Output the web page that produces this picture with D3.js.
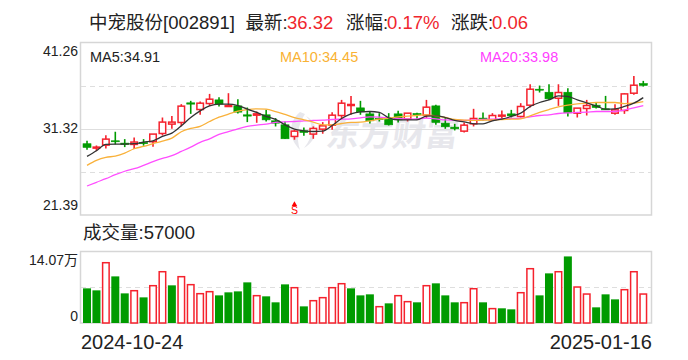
<!DOCTYPE html>
<html>
<head>
<meta charset="utf-8">
<script src="https://cdn.jsdelivr.net/npm/d3@7"></script>
<style>
    html, body { margin: 0; padding: 0; background: #fff; }
    text { font-family: "Liberation Sans", "Noto Sans CJK SC", sans-serif; }
</style>
</head>
<body>
<div id="myPlot"></div>
<script>
// Price data, one entry per trading day
const opens = [29.60,29.10,29.44,29.94,29.67,29.52,29.75,29.83,30.78,31.86,32.05,34.31,33.54,34.23,34.65,33.93,33.96,32.93,32.89,32.93,32.24,31.78,30.44,31.09,30.71,31.28,31.74,32.85,34.00,33.73,33.04,32.51,32.43,33.04,32.43,33.08,32.89,33.96,31.97,31.51,31.05,31.89,32.55,32.35,32.81,33.04,32.74,34.04,35.88,35.53,34.84,35.53,33.12,33.66,34.04,33.62,33.12,33.43,35.42,36.53];
const closes = [29.17,29.21,30.13,29.83,29.52,29.79,29.60,30.71,32.09,32.09,33.93,34.16,34.27,34.73,34.16,34.00,33.24,32.78,33.04,32.35,31.97,30.17,31.05,30.90,31.36,31.66,32.89,34.27,34.12,33.27,32.24,32.39,31.78,32.35,33.12,32.93,33.81,32.05,31.55,31.32,31.74,32.51,32.35,32.85,32.89,32.81,33.89,35.88,35.80,34.77,35.50,33.16,33.70,34.00,33.77,33.50,33.50,35.34,36.34,36.32];
const highs = [29.94,29.40,30.59,30.98,30.13,30.32,30.13,30.71,32.62,32.78,34.16,34.54,34.46,35.34,34.96,35.42,34.73,33.77,33.31,33.50,32.55,32.16,31.21,31.47,31.59,32.09,33.24,34.65,35.11,34.54,33.31,33.12,33.12,33.39,33.12,33.16,34.65,34.08,32.55,31.89,32.05,33.62,33.20,33.12,33.43,33.50,34.27,36.45,36.30,36.45,36.45,35.99,33.70,34.65,34.42,35.11,34.16,35.42,37.41,36.84];
const lows = [28.91,28.75,29.06,29.52,29.21,28.98,29.37,29.25,30.55,31.32,31.59,33.04,32.93,33.96,33.89,33.89,33.08,32.09,32.01,32.16,31.59,30.13,30.06,30.52,30.17,30.75,31.21,32.43,32.93,32.93,31.93,32.16,31.70,32.05,32.16,32.35,32.55,31.78,31.32,31.13,30.90,31.59,32.28,32.24,32.35,32.62,32.62,33.77,35.50,34.65,33.96,32.74,32.62,32.85,33.66,33.50,32.93,33.04,35.23,36.19];
const ma5 = [28.14,28.79,29.52,29.56,29.56,29.60,29.79,29.94,30.44,30.82,31.66,32.62,33.39,33.96,34.16,34.16,34.00,33.58,33.20,32.74,32.40,31.78,31.28,31.09,31.01,31.05,31.70,32.51,33.04,33.27,33.31,33.20,32.58,32.35,32.35,32.35,32.78,32.81,32.62,32.28,32.12,31.89,31.89,32.24,32.43,32.74,33.12,33.89,34.35,34.65,35.11,35.04,34.65,34.31,33.96,33.58,33.62,33.89,34.27,34.91];
const ma10 = [27.11,27.68,28.02,28.18,28.52,29.02,29.29,29.60,29.90,30.25,30.98,31.36,31.59,32.16,32.66,33.01,33.35,33.54,33.62,33.58,33.31,32.97,32.62,32.35,32.09,31.78,31.78,31.93,32.05,32.09,32.24,32.43,32.55,32.70,32.78,32.85,32.93,32.81,32.62,32.39,32.32,32.28,32.32,32.35,32.39,32.43,32.47,32.81,33.20,33.54,33.85,34.04,34.19,34.27,34.35,34.35,34.35,34.23,34.27,34.45];
const ma20 = [24.73,25.16,25.57,26.03,26.43,26.72,27.11,27.53,27.91,28.22,28.71,29.21,29.75,30.17,30.67,30.98,31.32,31.59,31.74,31.86,32.05,32.12,32.16,32.24,32.28,32.32,32.39,32.43,32.47,32.58,32.70,32.66,32.58,32.51,32.43,32.47,32.55,32.47,32.35,32.32,32.28,32.35,32.39,32.43,32.47,32.51,32.55,32.70,32.85,32.93,33.08,33.16,33.20,33.24,33.31,33.31,33.31,33.47,33.73,33.98];
// Volume in 万, same order. The bar colour does not always follow the candle colour
const volumes = [6.77,6.38,11.78,9.11,5.79,6.31,5.01,7.29,10.02,7.36,9.05,7.49,5.73,6.12,5.40,5.99,6.18,7.94,5.34,5.21,4.04,7.55,6.90,3.25,4.36,4.95,6.90,7.68,6.77,5.40,5.60,3.19,3.84,5.34,4.17,4.04,7.29,7.75,5.40,4.04,3.97,6.70,4.04,2.81,2.87,2.67,5.92,10.61,5.40,9.70,10.02,13.01,7.03,5.66,3.06,5.60,4.62,6.51,10.02,5.66];
const volumeUp = [0,0,1,0,0,1,0,1,1,0,1,1,1,1,0,0,0,0,1,0,0,0,1,0,1,1,1,1,0,0,0,1,0,1,1,0,1,0,0,0,1,1,0,1,0,0,1,1,0,0,1,0,1,1,0,0,0,1,1,1];

const priceTicks = [21.39, 31.32, 41.26];
const volumeTicks = [0, 14.07];
const startDate = "2024-10-24";
const endDate = "2025-01-16";

const titleParts = [
    { text: "中宠股份[002891]", color: "#222", x: 89 },
    { text: "最新:", color: "#222", x: 245.5 },
    { text: "36.32", color: "#f0262d", x: 287 },
    { text: "涨幅:", color: "#222", x: 346 },
    { text: "0.17%", color: "#f0262d", x: 387 },
    { text: "涨跌:", color: "#222", x: 451 },
    { text: "0.06", color: "#f0262d", x: 492 }
];
const maLegend = [
    { text: "MA5:34.91", color: "#222", x: 90 },
    { text: "MA10:34.45", color: "#f9b233", x: 280 },
    { text: "MA20:33.98", color: "#ff40ff", x: 480 }
];

const red = "#f5222d";
const green = "#009b00";
const frameColor = "#d6d6d6";
const gridColor = "#dedede";

const svg = d3.select("#myPlot")
    .append("svg")
    .attr("width", 688)
    .attr("height", 360)
    .style("display", "block");

// Scales
const x = d3.scaleBand()
    .domain(d3.range(opens.length))
    .range([82.3, 648])
    .paddingInner(0.15)
    .paddingOuter(0.075);

const y = d3.scaleLinear()
    .domain([21.39, 41.26])
    .range([215, 42.5]);

const yVol = d3.scaleLinear()
    .domain([0, 14.07])
    .range([323, 251]);

const mid = i => x(i) + x.bandwidth() / 2;

// Title
svg.append("g").selectAll("text")
    .data(titleParts)
    .join("text")
    .attr("x", d => d.x)
    .attr("y", 29)
    .attr("font-size", 18.5)
    .attr("fill", d => d.color)
    .text(d => d.text);

// Watermark
const mark = svg.append("g").attr("fill", "#e7e7ec");
mark.append("text")
    .attr("transform", "translate(325,146) skewX(-8)")
    .attr("font-size", 33)
    .attr("font-weight", 700)
    .text("东方财富");
mark.append("path")
    .attr("d", "M300,112 C288,122 288,138 300,150 C296,138 298,124 305,114 Z M306,116 C314,124 314,136 304,148 C318,140 320,124 306,116 Z");

// Frames
svg.append("rect")
    .attr("x", 80.5).attr("y", 42.5).attr("width", 571).attr("height", 172.5)
    .attr("fill", "none").attr("stroke", frameColor).attr("stroke-width", 1.5);
svg.append("rect")
    .attr("x", 80.5).attr("y", 251.5).attr("width", 571).attr("height", 71.5)
    .attr("fill", "none").attr("stroke", frameColor).attr("stroke-width", 1.5);

// Grid
const grid = svg.append("g");
grid.selectAll("line.price")
    .data([26.35, 31.32, 36.29])
    .join("line")
    .attr("class", "price")
    .attr("x1", 81).attr("x2", 651)
    .attr("y1", d => Math.round(y(d)) + 0.5)
    .attr("y2", d => Math.round(y(d)) + 0.5)
    .attr("stroke", gridColor)
    .attr("stroke-dasharray", d => d === 31.32 ? null : "5,4");
grid.append("line")
    .attr("x1", 81).attr("x2", 651)
    .attr("y1", Math.round(yVol(7.035)) + 0.5)
    .attr("y2", Math.round(yVol(7.035)) + 0.5)
    .attr("stroke", gridColor)
    .attr("stroke-dasharray", "5,4");

// Axes
const priceAxis = svg.append("g")
    .attr("transform", "translate(80,0)")
    .call(d3.axisLeft(y).tickValues(priceTicks).tickSize(0).tickPadding(2).tickFormat(d3.format(".2f")));
priceAxis.select(".domain").remove();
priceAxis.selectAll("text")
    .attr("font-size", 14)
    .attr("font-family", "Liberation Sans")
    .attr("fill", "#222")
    .attr("dy", d => d === 41.26 ? "0.95em" : d === 21.39 ? "-0.4em" : "0.25em");

const volAxis = svg.append("g")
    .attr("transform", "translate(80,0)")
    .call(d3.axisLeft(yVol).tickValues(volumeTicks).tickSize(0).tickPadding(2).tickFormat(d => d === 0 ? "0" : d + "万"));
volAxis.select(".domain").remove();
volAxis.selectAll("text")
    .attr("font-size", 14)
    .attr("font-family", "Liberation Sans, Noto Sans CJK SC")
    .attr("fill", "#222")
    .attr("dy", d => d === 0 ? "-0.2em" : "0.95em");

// Candles
const candles = svg.append("g");
candles.selectAll("line")
    .data(opens)
    .join("line")
    .attr("x1", (d, i) => mid(i))
    .attr("x2", (d, i) => mid(i))
    .attr("y1", (d, i) => y(highs[i]))
    .attr("y2", (d, i) => y(lows[i]))
    .attr("stroke", (d, i) => closes[i] >= opens[i] ? red : green)
    .attr("stroke-width", 1.6);

candles.selectAll("rect")
    .data(opens)
    .join("rect")
    .attr("x", (d, i) => x(i) + (closes[i] >= opens[i] ? 0.75 : 0))
    .attr("width", (d, i) => x.bandwidth() - (closes[i] >= opens[i] ? 1.5 : 0))
    .attr("y", (d, i) => y(Math.max(opens[i], closes[i])))
    .attr("height", (d, i) => Math.max(1, Math.abs(y(opens[i]) - y(closes[i]))))
    .attr("fill", (d, i) => closes[i] >= opens[i] ? "#fff" : green)
    .attr("stroke", (d, i) => closes[i] >= opens[i] ? red : green)
    .attr("stroke-width", (d, i) => closes[i] >= opens[i] ? 1.5 : 0.6);

// Moving averages
const line = d3.line()
    .x((d, i) => mid(i))
    .y(d => y(d))
    .curve(d3.curveMonotoneX);

[[ma20, "#ff4dff"], [ma10, "#f9b13a"], [ma5, "#333"]].forEach(([values, color]) => {
    svg.append("path")
        .datum(values)
        .attr("fill", "none")
        .attr("stroke", color)
        .attr("stroke-width", 1.3)
        .attr("d", line);
});

// Legend
svg.append("g").selectAll("text")
    .data(maLegend)
    .join("text")
    .attr("x", d => d.x)
    .attr("y", 62)
    .attr("font-size", 14.5)
    .attr("fill", d => d.color)
    .text(d => d.text);

// S marker under the candle it belongs to
const sMarker = svg.append("g").attr("fill", "#f00");
sMarker.append("path")
    .attr("d", d3.symbol(d3.symbolTriangle, 14))
    .attr("transform", `translate(${mid(22)},204.5)`);
sMarker.append("text")
    .attr("x", mid(22))
    .attr("y", 214)
    .attr("text-anchor", "middle")
    .attr("font-size", 10.5)
    .text("S");

// Volume label
svg.append("text")
    .attr("x", 83)
    .attr("y", 239)
    .attr("font-size", 18.5)
    .attr("fill", "#222")
    .text("成交量:57000");

// Volume bars
svg.append("g").selectAll("rect")
    .data(volumes)
    .join("rect")
    .attr("x", (d, i) => x(i) + (volumeUp[i] ? 0.75 : 0))
    .attr("width", (d, i) => x.bandwidth() - (volumeUp[i] ? 1.5 : 0))
    .attr("y", d => yVol(d))
    .attr("height", d => yVol(0) - yVol(d))
    .attr("fill", (d, i) => volumeUp[i] ? "#fff" : green)
    .attr("stroke", (d, i) => volumeUp[i] ? red : "none")
    .attr("stroke-width", 1.5);

// Dates
svg.append("text")
    .attr("x", 81).attr("y", 349)
    .attr("font-size", 20).attr("fill", "#222")
    .text(startDate);
svg.append("text")
    .attr("x", 652).attr("y", 349)
    .attr("text-anchor", "end")
    .attr("font-size", 20).attr("fill", "#222")
    .text(endDate);
</script>
</body>
</html>
